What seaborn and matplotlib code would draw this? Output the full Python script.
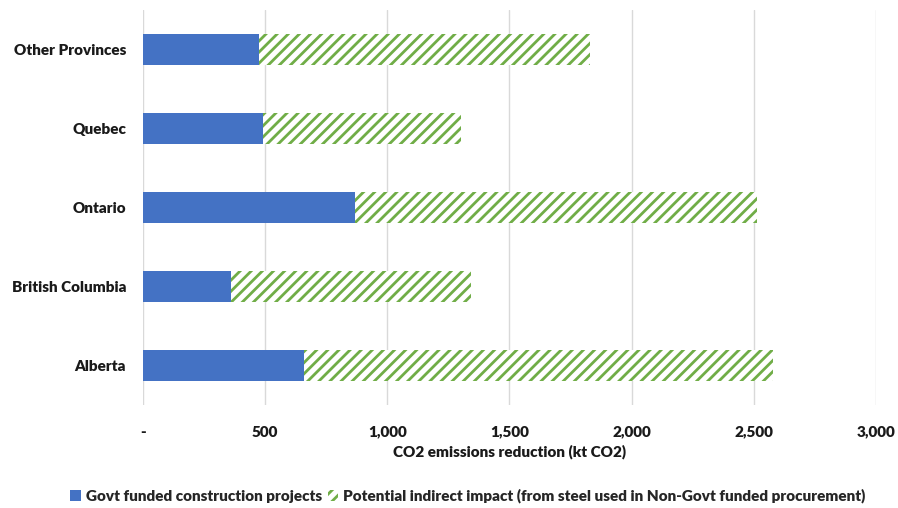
import seaborn as sns
import matplotlib.pyplot as plt
import pandas as pd
from matplotlib.patches import Patch

regions = ["Other Provinces", "Quebec", "Ontario", "British Columbia", "Alberta"]
govt = [475, 491, 868, 360, 659]
indirect = [1355, 811, 1645, 983, 1920]
xticks = [0, 500, 1000, 1500, 2000, 2500, 3000]
xticklabels = ["-", "500", "1,000", "1,500", "2,000", "2,500", "3,000"]

blue = "#4472C4"
green = "#70AD47"
txt = "#1a1a1a"

data = pd.DataFrame({"region": regions, "govt": govt, "indirect": indirect})
data["total"] = data["govt"] + data["indirect"]

sns.set_style("white")
plt.rcParams["font.family"] = ["Lato", "DejaVu Sans"]
plt.rcParams["hatch.linewidth"] = 2.0

fig = plt.figure(figsize=(8.98, 5.08), dpi=100)
ax = fig.add_axes([0.159, 0.203, 0.8165, 0.777])

sns.barplot(data=data, x="total", y="region", orient="h", color="white",
            edgecolor=green, hatch="///", linewidth=0, width=0.39, ax=ax)
sns.barplot(data=data, x="govt", y="region", orient="h", color=blue, saturation=1,
            linewidth=0, width=0.39, ax=ax)

ax.set_xlim(0, 3000)
ax.set_xticks(xticks)
ax.set_xticklabels(xticklabels, fontsize=11, fontweight="heavy", color=txt)
for t in ax.get_yticklabels():
    t.set_fontsize(11)
    t.set_fontweight("heavy")
    t.set_color(txt)
ax.tick_params(axis="x", length=0, pad=15)
ax.tick_params(axis="y", length=0, pad=12)
ax.set_ylabel("")
ax.set_xlabel("CO2 emissions reduction (kt CO2)", fontsize=11, fontweight="heavy",
              color=txt, labelpad=4)
ax.xaxis.grid(True, color="#d9d9d9", linewidth=1)
ax.set_axisbelow(True)
sns.despine(ax=ax, left=True, bottom=True)

handles = [Patch(facecolor=blue, edgecolor=blue, linewidth=0),
           Patch(facecolor="white", edgecolor=green, hatch="///", linewidth=0)]
labels = ["Govt funded construction projects",
          "Potential indirect impact (from steel used in Non-Govt funded procurement)"]
fig.legend(handles, labels, loc="lower center", bbox_to_anchor=(0.521, -0.018), ncol=2,
           frameon=False, handlelength=0.7, handleheight=0.7, handletextpad=0.3,
           columnspacing=0.4, prop={"weight": "heavy", "size": 11})

fig.savefig("out.png", dpi=100)
